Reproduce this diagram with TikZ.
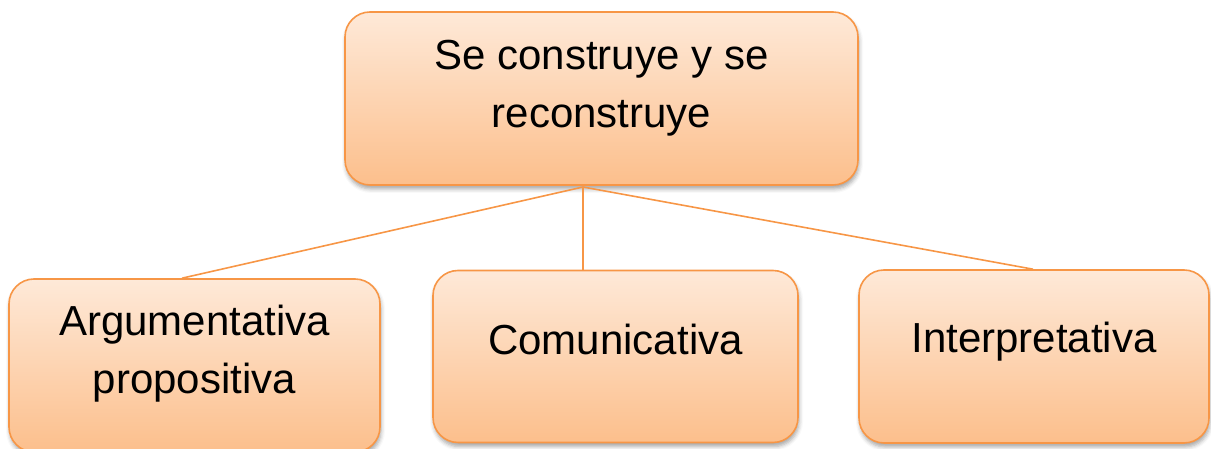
\documentclass[tikz,border=0pt]{standalone}
\usepackage{fontspec}
\setmainfont{Liberation Sans}
\usetikzlibrary{shadows.blur}
\definecolor{edgeor}{RGB}{247,150,70}
\definecolor{ftop}{RGB}{254,233,216}
\definecolor{fbot}{RGB}{252,191,140}
\begin{document}
\begin{tikzpicture}[x=1pt,y=1pt,
  box/.style={draw=edgeor, line width=1.6pt, rounded corners=25pt,
    top color=ftop, bottom color=fbot, inner sep=0pt,
    blur shadow={shadow xshift=1pt, shadow yshift=-4pt, shadow blur radius=4pt, shadow opacity=35}},
  lbl/.style={font=\fontsize{42}{58}\selectfont, align=center, text=black},
  link/.style={draw=edgeor, line width=1.6pt}]
\useasboundingbox (0,0) rectangle (1211,449);
\node[box, minimum width=513pt, minimum height=173pt,
  label={[lbl, yshift=10pt]center:Se construye y se\\reconstruye}] (topbox) at (601.5,350.5) {};
\node[box, minimum width=371pt, minimum height=173pt,
  label={[lbl, yshift=12pt]center:Argumentativa\\propositiva}] (leftbox) at (194.5,83.5) {};
\node[box, minimum width=365pt, minimum height=172pt,
  label={[lbl, yshift=17pt]center:Comunicativa}] (midbox) at (615.5,92.5) {};
\node[box, minimum width=350pt, minimum height=173pt,
  label={[lbl, yshift=15pt]center:Interpretativa}] (rightbox) at (1034,92.5) {};
\coordinate (j) at (583,262);
\draw[link] ([xshift=-12.5pt]leftbox.north) -- (j) -- ([xshift=-1pt]rightbox.north);
\draw[link] (j) -- (j |- midbox.north);
\end{tikzpicture}
\end{document}
